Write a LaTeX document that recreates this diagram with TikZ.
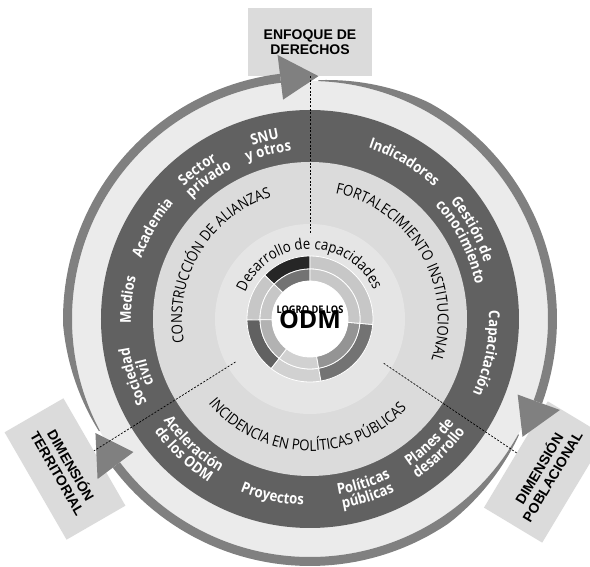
\documentclass[tikz,border=0pt]{standalone}
\usepackage{fontspec}
\setmainfont{Open Sans}
\newfontfamily\ringfont{Open Sans}[FakeStretch=0.88]
\newfontfamily\boxfont{Liberation Sans}
\usetikzlibrary{decorations.text,calc}

\definecolor{ringdark}{gray}{0.38}
\definecolor{ringlight}{gray}{0.92}
\definecolor{sectorfill}{gray}{0.86}
\definecolor{innerfill}{gray}{0.9}
\definecolor{arrowgray}{gray}{0.5}
\definecolor{boxfill}{gray}{0.86}

\newcommand\ringstyle{\fontsize{15}{15}\ringfont\bfseries}
\newcommand\sectorstyle{\fontsize{15}{15}\ringfont}

\tikzset{
  curved/.style 2 args={decorate, decoration={text along path, text align=center, text color=#1, text={#2}}},
  labelbox/.style={fill=boxfill, minimum width=124, minimum height=68, align=center, font=\boxfont\bfseries\fontsize{14}{15.5}\selectfont},
  divider/.style={black, line width=0.7, dash pattern=on 2pt off 1.6pt},
}

% tops outward (clockwise arc) / tops inward (anticlockwise arc)
\newcommand\outarc[4]{\path[curved={#1}{#4}] (#3+75:#2) arc[start angle=#3+75, end angle=#3-75, radius=#2];}
\newcommand\inarc[4]{\path[curved={#1}{#4}] (#3-75:#2) arc[start angle=#3-75, end angle=#3+75, radius=#2];}

\begin{document}
\begin{tikzpicture}[x=1pt, y=1pt]
  \useasboundingbox (-310,-248) rectangle (280,319);

  % labels behind the ring
  \node[labelbox] (derechos) at (0,277) {ENFOQUE DE\\DERECHOS};
  \node[labelbox, rotate=59] (poblacional) at (235,-153) {DIMENSIÓN\\POBLACIONAL};
  \node[labelbox, rotate=-60] (territorial) at (-245,-150) {DIMENSIÓN\\TERRITORIAL};

  % arrow ring
  \fill[ringlight] (0,0) circle (238);
  \foreach \s/\b/\t in {208/97/88, 88/-20/-29, -29/-143/-152} {
    \fill[arrowgray] plot[domain=\s:\b, samples=60] (\x:{238+min(9,1+0.3*(\s-\x))})
      -- (\b:238) arc[start angle=\b, end angle=\s, radius=238] -- cycle;
    \fill[arrowgray] (\b:221) -- (\b:266) -- (\t:243) -- cycle;
  }

  % rings
  \fill[ringdark] (0,0) circle (209);
  \fill[sectorfill] (0,0) circle (157);
  \fill[innerfill] (0,0) circle (95);

  % centre
  \foreach \a/\b/\co/\ci in {90/136/black!85/black!55, 136/181/black!22/black!22, 181/232/black!62/black!30,
      232/280/black!18/black!18, 280/355/black!55/black!42, 355/450/black!22/black!22} {
    \filldraw[fill=\co, draw=white, line width=0.8] (\a:63) arc[start angle=\a, end angle=\b, radius=63]
      -- (\b:50) arc[start angle=\b, end angle=\a, radius=50] -- cycle;
    \filldraw[fill=\ci, draw=white, line width=0.8] (\a:50) arc[start angle=\a, end angle=\b, radius=50]
      -- (\b:38) arc[start angle=\b, end angle=\a, radius=38] -- cycle;
  }
  \fill[white] (0,0) circle (38);
  \node[align=center, inner sep=0] (logro) at (0,2) {{\fontsize{10.5}{10.5}\ringfont\bfseries LOGRO DE LOS}\\[-4pt]{\fontsize{25}{25}\selectfont\bfseries ODM}};

  % dividers
  \coordinate (top) at (90:86);
  \coordinate (right) at (-31:86);
  \coordinate (left) at (210:86);
  \draw[divider] (top) -- (derechos);
  \draw[divider] (right) -- (poblacional);
  \draw[divider] (left) -- (territorial);

  % middle texts
  \outarc{black}{70}{91}{|\sectorstyle|Desarrollo de capacidades}
  \outarc{black}{128}{149}{|\sectorstyle|CONSTRUCCIÓN DE ALIANZAS}
  \outarc{black}{128}{30}{|\sectorstyle|FORTALECIMIENTO INSTITUCIONAL}
  \inarc{black}{132}{268.5}{|\sectorstyle|INCIDENCIA EN POLÍTICAS PÚBLICAS}

  % dark ring texts
  \outarc{white}{183}{198}{|\ringstyle|Sociedad}
  \outarc{white}{169}{198}{|\ringstyle|civil}
  \outarc{white}{179}{174}{|\ringstyle|Medios}
  \outarc{white}{179}{150}{|\ringstyle|Academia}
  \outarc{white}{183}{127}{|\ringstyle|Sector}
  \outarc{white}{169}{126}{|\ringstyle|privado}
  \outarc{white}{183}{104}{|\ringstyle|SNU}
  \outarc{white}{169}{104}{|\ringstyle|y otros}
  \outarc{white}{181}{59}{|\ringstyle|Indicadores}
  \outarc{white}{183}{29}{|\ringstyle|Gestión de}
  \outarc{white}{169}{27}{|\ringstyle|conocimiento}
  \outarc{white}{179}{-11}{|\ringstyle|Capacitación}
  \inarc{white}{178}{227}{|\ringstyle|Aceleración}
  \inarc{white}{192}{227}{|\ringstyle|de los ODM}
  \inarc{white}{186}{258}{|\ringstyle|Proyectos}
  \inarc{white}{178}{288}{|\ringstyle|Políticas}
  \inarc{white}{192}{288}{|\ringstyle|públicas}
  \inarc{white}{178}{314}{|\ringstyle|Planes de}
  \inarc{white}{192}{314}{|\ringstyle|desarrollo}
\end{tikzpicture}
\end{document}
